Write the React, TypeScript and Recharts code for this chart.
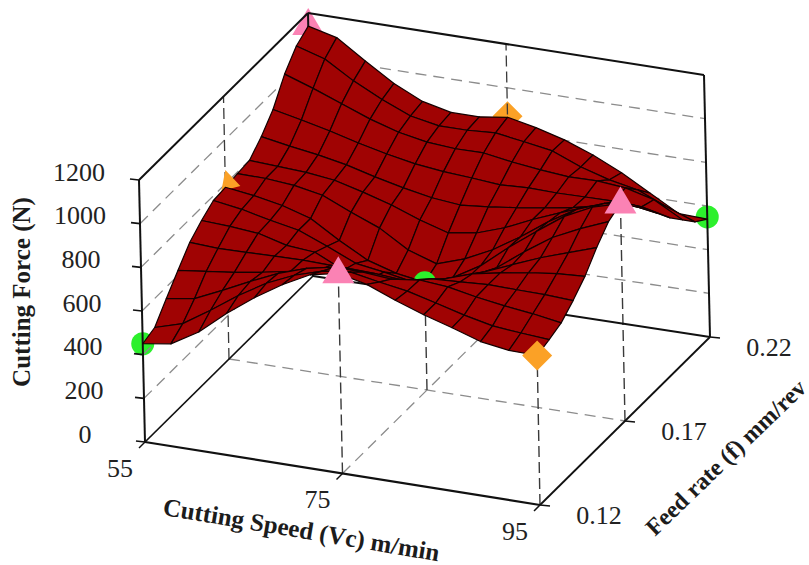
import { Scatter, ScatterChart, XAxis, YAxis } from 'recharts'

const WIDTH = 809
const HEIGHT = 565
const SERIF = '"Liberation Serif", "Times New Roman", serif'

const speedTicks = [55, 75, 95]
const feedTicks = [0.12, 0.17, 0.22]
const forceTicks = [0, 200, 400, 600, 800, 1000, 1200]

// measured cutting force at each speed / feed combination
const measuredSpeed = [55, 75, 95, 55, 75, 95, 55, 75, 95]
const measuredFeed = [0.12, 0.12, 0.12, 0.17, 0.17, 0.17, 0.22, 0.22, 0.22]
const measuredForce = [450, 915, 682, 795, 490, 994, 1145, 870, 550]

// surface heights, one row per feed step (0.12 -> 0.22), speed 55 -> 95
const forceGrid = [
  [450, 470, 545, 650, 742, 822, 888, 915, 885, 833, 787, 748, 705, 685, 682],
  [470, 508, 590, 678, 754, 811, 850, 866, 841, 820, 786, 751, 722, 710, 700],
  [548, 568, 626, 688, 745, 788, 814, 811, 800, 816, 805, 779, 759, 743, 722],
  [623, 638, 654, 675, 700, 725, 755, 750, 740, 767, 773, 781, 778, 776, 769],
  [696, 689, 691, 694, 696, 693, 677, 661, 672, 712, 755, 780, 801, 817, 825],
  [742, 735, 724, 689, 678, 616, 600, 602, 623, 666, 710, 763, 815, 859, 902],
  [779, 759, 729, 704, 651, 593, 573, 549, 573, 612, 674, 768, 853, 914, 966],
  [785, 767, 742, 703, 623, 552, 513, 492, 534, 609, 712, 806, 895, 957, 994],
  [793, 791, 780, 755, 697, 645, 565, 522, 565, 627, 707, 796, 872, 920, 935],
  [799, 792, 785, 769, 735, 696, 648, 609, 629, 673, 731, 783, 830, 870, 860],
  [853, 830, 810, 785, 750, 720, 695, 682, 694, 710, 730, 751, 780, 806, 785],
  [923, 895, 865, 830, 800, 775, 760, 751, 740, 746, 743, 745, 746, 740, 710],
  [1030, 985, 935, 885, 845, 820, 810, 811, 790, 774, 762, 764, 752, 718, 646],
  [1104, 1065, 985, 920, 865, 840, 840, 848, 828, 806, 753, 714, 688, 631, 582],
  [1140, 1108, 1021, 939, 877, 847, 847, 865, 838, 802, 753, 692, 618, 545, 540],
]

type Pt = { sx: number; sy: number; label?: string }

// screen position of the eight corners of the 3D box (speed, feed, force)
const FLOOR = [[145, 442], [540, 505], [710, 337], [313, 276]]
const ROOF = [[139, 180], [535, 242], [704, 75], [308, 13]]

const project = (speed: number, feed: number, force: number): Pt => {
  const u = (speed - 55) / 40
  const v = (feed - 0.12) / 0.1
  const w = force / 1200
  const at = (c: number) => {
    const low = (1 - v) * ((1 - u) * FLOOR[0][c] + u * FLOOR[1][c]) + v * ((1 - u) * FLOOR[3][c] + u * FLOOR[2][c])
    const high = (1 - v) * ((1 - u) * ROOF[0][c] + u * ROOF[1][c]) + v * ((1 - u) * ROOF[3][c] + u * ROOF[2][c])
    return (1 - w) * low + w * high
  }
  return { sx: at(0), sy: at(1) }
}

const meshRows = (first: number, last: number) =>
  forceGrid.slice(first, last + 1).flatMap((row, j) =>
    row.map((force, i) => project(55 + (40 * i) / 14, 0.12 + (0.1 * (first + j)) / 14, force)),
  )

const SurfaceMesh = ({ points }: { points?: { x: number; y: number }[] }) => {
  if (!points) return null
  const n = forceGrid[0].length
  const rows = points.length / n
  const quads = []
  // back corner first so the nearer cells cover the farther ones
  for (let j = rows - 2; j >= 0; j--) {
    for (let i = 0; i < n - 1; i++) {
      const corners = [j * n + i, j * n + i + 1, (j + 1) * n + i + 1, (j + 1) * n + i].map((k) => points[k])
      quads.push(
        <polygon
          key={`${j}-${i}`}
          points={corners.map((p) => `${p.x},${p.y}`).join(' ')}
          fill="#a00303"
          stroke="#140000"
          strokeWidth={1.2}
          strokeLinejoin="round"
        />,
      )
    }
  }
  return <g>{quads}</g>
}

const Nothing = () => null

const Circle = ({ cx, cy }: any) => <circle cx={cx} cy={cy} r={11.5} fill="#2cf02c" />
const Triangle = ({ cx, cy }: any) => (
  <path d={`M${cx},${cy - 17}L${cx + 16},${cy + 10}L${cx - 16},${cy + 10}Z`} fill="#fb82b4" />
)
const Diamond = ({ cx, cy }: any) => (
  <path d={`M${cx},${cy - 15}L${cx + 15},${cy}L${cx},${cy + 15}L${cx - 15},${cy}Z`} fill="#fba126" />
)
// the left wall side of this marker is hidden in the original
const HalfDiamond = ({ cx, cy }: any) => (
  <path d={`M${cx},${cy - 15}L${cx + 15},${cy + 1}L${cx - 4},${cy + 6}Z`} fill="#fba126" />
)

const TickText = ({ cx, cy, label }: any) => (
  <text x={cx} y={cy} fontFamily={SERIF} fontSize={26} fill="#222" textAnchor="middle" dominantBaseline="central">
    {label}
  </text>
)

const measured = (index: number) => [project(measuredSpeed[index], measuredFeed[index], measuredForce[index])]

const segment = (a: Pt, b: Pt, stroke: string, width: number, dash?: string, key?: string) => (
  <Scatter
    key={key}
    data={[a, b]}
    shape={Nothing}
    isAnimationActive={false}
    line={{ stroke, strokeWidth: width, strokeDasharray: dash }}
  />
)

const offset = (p: Pt, dx: number, dy: number, label: string): Pt => ({ sx: p.sx + dx, sy: p.sy + dy, label })

const App = () => {
  const minF = feedTicks[0]
  const maxF = feedTicks[2]
  const minV = speedTicks[0]
  const maxV = speedTicks[2]
  const top = forceTicks[6]
  const wallLevels = forceTicks.slice(1, 6)
  const midV = speedTicks[1]
  const midF = feedTicks[1]
  const GREY = '#8c8c8c'
  const DARK = '#3a3a3a'
  return (
    <div style={{ position: 'absolute', left: 0, top: 0, width: WIDTH, height: HEIGHT, background: '#fff' }}>
      <ScatterChart width={WIDTH} height={HEIGHT} margin={{ top: 0, right: 0, bottom: 0, left: 0 }}>
        <XAxis type="number" dataKey="sx" domain={[0, WIDTH]} hide />
        <YAxis type="number" dataKey="sy" domain={[0, HEIGHT]} reversed hide />

        <Scatter data={measured(0)} shape={Circle} isAnimationActive={false} />
        <Scatter data={measured(8)} shape={Circle} isAnimationActive={false} />
        <Scatter data={measured(7)} shape={Diamond} isAnimationActive={false} />
        <Scatter data={measured(6)} shape={Triangle} isAnimationActive={false} />

        {wallLevels.map((z) => segment(project(minV, minF, z), project(minV, maxF, z), GREY, 1.3, '11 7', `left-${z}`))}
        {wallLevels.map((z) => segment(project(minV, maxF, z), project(maxV, maxF, z), GREY, 1.3, '11 7', `back-${z}`))}
        {segment(project(minV, midF, 0), project(maxV, midF, 0), GREY, 1.3, '11 7', 'floor-f')}
        {segment(project(midV, minF, 0), project(midV, maxF, 0), GREY, 1.3, '11 7', 'floor-v')}
        {segment(project(minV, midF, 0), project(minV, midF, top), DARK, 1.3, '11 5', 'wall-f')}
        {segment(project(midV, maxF, 0), project(midV, maxF, top), DARK, 1.3, '11 5', 'wall-v')}
        {[1, 2, 4, 5].map((k) =>
          segment(
            project(measuredSpeed[k], measuredFeed[k], 0),
            project(measuredSpeed[k], measuredFeed[k], measuredForce[k]),
            DARK,
            1.4,
            '11 5',
            `drop-${k}`,
          ),
        )}

        {segment(project(minV, minF, 0), project(minV, minF, top), '#111', 2, undefined, 'edge-a')}
        {segment(project(maxV, maxF, 0), project(maxV, maxF, top), '#111', 2, undefined, 'edge-c')}
        {segment(project(minV, maxF, 0), project(minV, maxF, top), '#111', 2, undefined, 'edge-d')}
        {segment(project(minV, minF, top), project(minV, maxF, top), '#111', 2, undefined, 'top-l')}
        {segment(project(minV, maxF, top), project(maxV, maxF, top), '#111', 2, undefined, 'top-b')}
        {segment(project(minV, minF, 0), project(minV, maxF, 0), '#111', 1.7, undefined, 'floor-l')}
        {segment(project(minV, maxF, 0), project(maxV, maxF, 0), '#111', 2, undefined, 'floor-b')}
        {segment(project(minV, minF, 0), project(maxV, minF, 0), '#111', 2.2, undefined, 'floor-a')}
        {segment(project(maxV, minF, 0), project(maxV, maxF, 0), '#111', 1.8, undefined, 'floor-c')}

        {forceTicks.map((z) => segment(project(minV, minF, z), offset(project(minV, minF, z), -9, -1, ''), '#111', 1.6, undefined, `tz-${z}`))}
        {speedTicks.map((s) => segment(project(s, minF, 0), offset(project(s, minF, 0), -6, 6, ''), '#111', 1.5, undefined, `tv-${s}`))}
        {feedTicks.map((f) => segment(project(maxV, f, 0), offset(project(maxV, f, 0), 10, 1, ''), '#111', 1.5, undefined, `tf-${f}`))}

        <Scatter data={meshRows(7, 14)} shape={Nothing} isAnimationActive={false} line={SurfaceMesh as any} />

        <Scatter data={measured(4)} shape={Circle} isAnimationActive={false} />
        <Scatter data={measured(3)} shape={HalfDiamond} isAnimationActive={false} />

        <Scatter data={meshRows(0, 7)} shape={Nothing} isAnimationActive={false} line={SurfaceMesh as any} />

        <Scatter data={measured(1)} shape={Triangle} isAnimationActive={false} />
        <Scatter data={measured(5)} shape={Triangle} isAnimationActive={false} />
        <Scatter data={measured(2)} shape={Diamond} isAnimationActive={false} />

        <Scatter
          data={forceTicks.map((z) => offset(project(minV, minF, z), -60, -8, String(z)))}
          shape={TickText}
          isAnimationActive={false}
        />
        <Scatter
          data={speedTicks.map((s) => offset(project(s, minF, 0), -25, 26, String(s)))}
          shape={TickText}
          isAnimationActive={false}
        />
        <Scatter
          data={feedTicks.map((f) => offset(project(maxV, f, 0), 59, 10, f.toFixed(2)))}
          shape={TickText}
          isAnimationActive={false}
        />

        <text
          transform="translate(30,292) rotate(-90)"
          textAnchor="middle"
          fontFamily={SERIF}
          fontWeight="bold"
          fontSize={25}
          fill="#1c1c1c"
        >
          Cutting Force (N)
        </text>
        <text
          transform="translate(300,538) rotate(9.6)"
          textAnchor="middle"
          fontFamily={SERIF}
          fontWeight="bold"
          fontSize={25}
          fill="#1c1c1c"
        >
          Cutting Speed (Vc) m/min
        </text>
        <text
          transform="translate(655,537) rotate(-44)"
          textAnchor="start"
          fontFamily={SERIF}
          fontWeight="bold"
          fontSize={24}
          fill="#1c1c1c"
        >
          Feed rate (f) mm/rev
        </text>
      </ScatterChart>
    </div>
  )
}

export default App
